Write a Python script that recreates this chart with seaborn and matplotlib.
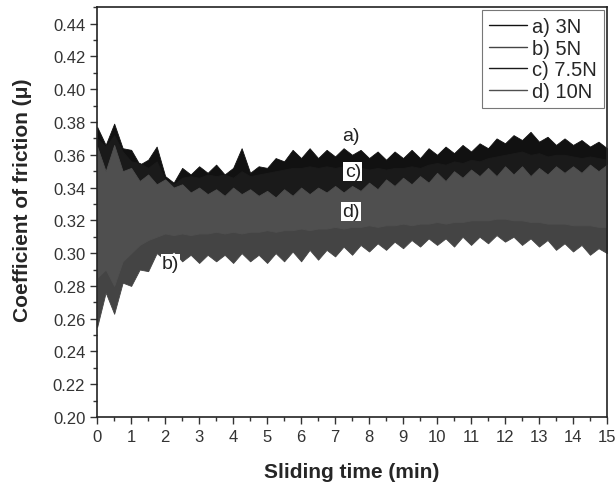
import matplotlib.pyplot as plt
from matplotlib.lines import Line2D
from matplotlib.ticker import MultipleLocator
import numpy as np
import pandas as pd
import seaborn as sns

# sampling grid of the friction traces (min)
time_min = np.arange(0, 15.01, 0.25)

loads = ["a) 3N", "b) 5N", "c) 7.5N", "d) 10N"]
colors = ["#111111", "#444444", "#1a1a1a", "#4f4f4f"]

# upper / lower envelope of each noisy trace, read every 0.25 min
a_hi = [0.377, 0.366, 0.379, 0.364, 0.363, 0.354, 0.357, 0.365, 0.347, 0.343,
        0.352, 0.348, 0.353, 0.349, 0.354, 0.348, 0.352, 0.364, 0.349, 0.353,
        0.352, 0.358, 0.356, 0.363, 0.358, 0.364, 0.358, 0.363, 0.359, 0.364,
        0.360, 0.363, 0.358, 0.362, 0.357, 0.362, 0.358, 0.363, 0.358, 0.364,
        0.360, 0.365, 0.361, 0.366, 0.362, 0.367, 0.364, 0.370, 0.367, 0.372,
        0.369, 0.374, 0.368, 0.371, 0.366, 0.370, 0.366, 0.369, 0.365, 0.368,
        0.364]
a_lo = [0.322, 0.335, 0.328, 0.336, 0.338, 0.340, 0.341, 0.340, 0.338, 0.336,
        0.338, 0.339, 0.338, 0.340, 0.339, 0.340, 0.338, 0.341, 0.339, 0.340,
        0.341, 0.342, 0.343, 0.344, 0.344, 0.345, 0.344, 0.345, 0.345, 0.346,
        0.345, 0.344, 0.344, 0.345, 0.344, 0.345, 0.345, 0.346, 0.345, 0.347,
        0.348, 0.347, 0.349, 0.348, 0.350, 0.349, 0.351, 0.352, 0.353, 0.354,
        0.355, 0.353, 0.354, 0.352, 0.353, 0.353, 0.352, 0.351, 0.352, 0.351,
        0.350]

b_hi = [0.360, 0.350, 0.360, 0.345, 0.340, 0.335, 0.332, 0.330, 0.328, 0.327,
        0.326, 0.325, 0.326, 0.325, 0.326, 0.325, 0.326, 0.325, 0.326, 0.325,
        0.326, 0.326, 0.327, 0.327, 0.328, 0.327, 0.328, 0.328, 0.329, 0.328,
        0.329, 0.329, 0.330, 0.330, 0.330, 0.331, 0.331, 0.331, 0.332, 0.332,
        0.333, 0.332, 0.333, 0.333, 0.334, 0.334, 0.334, 0.335, 0.335, 0.335,
        0.335, 0.334, 0.334, 0.333, 0.333, 0.333, 0.332, 0.332, 0.332, 0.331,
        0.331]
b_lo = [0.255, 0.276, 0.263, 0.282, 0.280, 0.290, 0.289, 0.300, 0.296, 0.301,
        0.295, 0.299, 0.294, 0.299, 0.295, 0.299, 0.294, 0.300, 0.295, 0.299,
        0.294, 0.300, 0.295, 0.301, 0.295, 0.302, 0.296, 0.302, 0.298, 0.304,
        0.299, 0.305, 0.301, 0.306, 0.302, 0.307, 0.303, 0.308, 0.304, 0.309,
        0.305, 0.309, 0.304, 0.310, 0.305, 0.310, 0.306, 0.311, 0.307, 0.310,
        0.305, 0.309, 0.304, 0.308, 0.302, 0.306, 0.301, 0.305, 0.299, 0.303,
        0.300]

c_hi = [0.370, 0.365, 0.372, 0.362, 0.356, 0.355, 0.352, 0.356, 0.345, 0.342,
        0.346, 0.347, 0.346, 0.348, 0.347, 0.348, 0.346, 0.350, 0.347, 0.348,
        0.349, 0.350, 0.351, 0.352, 0.352, 0.353, 0.352, 0.353, 0.352, 0.353,
        0.353, 0.352, 0.351, 0.352, 0.351, 0.352, 0.352, 0.353, 0.352, 0.354,
        0.355, 0.354, 0.356, 0.355, 0.357, 0.356, 0.358, 0.359, 0.360, 0.361,
        0.362, 0.360, 0.361, 0.359, 0.360, 0.360, 0.359, 0.358, 0.359, 0.358,
        0.357]
c_lo = [0.295, 0.310, 0.300, 0.315, 0.320, 0.325, 0.328, 0.330, 0.332, 0.331,
        0.333, 0.332, 0.333, 0.334, 0.332, 0.333, 0.332, 0.334, 0.333, 0.332,
        0.333, 0.334, 0.335, 0.334, 0.335, 0.336, 0.335, 0.336, 0.335, 0.336,
        0.336, 0.335, 0.336, 0.337, 0.336, 0.337, 0.337, 0.338, 0.338, 0.339,
        0.340, 0.339, 0.341, 0.340, 0.342, 0.341, 0.342, 0.343, 0.344, 0.344,
        0.345, 0.344, 0.344, 0.343, 0.344, 0.343, 0.343, 0.342, 0.343, 0.342,
        0.342]

d_hi = [0.365, 0.350, 0.366, 0.350, 0.352, 0.344, 0.348, 0.342, 0.345, 0.340,
        0.342, 0.337, 0.340, 0.336, 0.339, 0.335, 0.340, 0.336, 0.339, 0.335,
        0.338, 0.334, 0.339, 0.335, 0.340, 0.336, 0.340, 0.337, 0.341, 0.337,
        0.341, 0.338, 0.343, 0.339, 0.345, 0.341, 0.346, 0.342, 0.347, 0.343,
        0.349, 0.344, 0.350, 0.346, 0.351, 0.347, 0.352, 0.347, 0.353, 0.348,
        0.353, 0.347, 0.352, 0.348, 0.353, 0.349, 0.353, 0.349, 0.354, 0.350,
        0.354]
d_lo = [0.285, 0.290, 0.280, 0.295, 0.300, 0.305, 0.308, 0.310, 0.312, 0.311,
        0.312, 0.311, 0.312, 0.312, 0.313, 0.312, 0.313, 0.312, 0.313, 0.313,
        0.314, 0.313, 0.314, 0.314, 0.315, 0.314, 0.315, 0.315, 0.316, 0.315,
        0.316, 0.316, 0.317, 0.316, 0.317, 0.317, 0.318, 0.317, 0.318, 0.318,
        0.319, 0.318, 0.319, 0.319, 0.320, 0.320, 0.320, 0.321, 0.321, 0.320,
        0.320, 0.319, 0.319, 0.318, 0.318, 0.318, 0.317, 0.317, 0.317, 0.316,
        0.316]

uppers = [a_hi, b_hi, c_hi, d_hi]
lowers = [a_lo, b_lo, c_lo, d_lo]

# curve labels placed on the plot
label_text = ["a)", "c)", "d)", "b)"]
label_x = [7.46, 7.52, 7.46, 2.16]
label_y = [0.3716, 0.3496, 0.3252, 0.2934]
label_box = [False, True, True, True]


def build_frame():
    rows = []
    for load, hi, lo in zip(loads, uppers, lowers):
        for t, h, l in zip(time_min, hi, lo):
            rows.append((t, load, h))
            rows.append((t, load, l))
    return pd.DataFrame(rows, columns=["time", "load", "cof"])


def plot_friction(df):
    fig, ax = plt.subplots(figsize=(6.15, 4.85), dpi=100)
    fig.subplots_adjust(left=0.158, right=0.987, bottom=0.138, top=0.983)

    for load, color in zip(loads, colors):
        sns.lineplot(
            data=df[df["load"] == load],
            x="time",
            y="cof",
            color=color,
            errorbar=("pi", 100),
            err_kws={"alpha": 1, "linewidth": 0.6, "edgecolor": color},
            linewidth=0,
            ax=ax,
        )

    for txt, x, y, box in zip(label_text, label_x, label_y, label_box):
        bbox = dict(facecolor="white", edgecolor="none", pad=0.8) if box else None
        ax.text(x, y, txt, ha="center", va="center", fontsize=14,
                color="#222222", bbox=bbox)

    ax.set_xlim(0, 15)
    ax.xaxis.set_major_locator(MultipleLocator(1))
    ax.xaxis.set_minor_locator(MultipleLocator(0.5))
    ax.yaxis.set_minor_locator(MultipleLocator(0.01))
    yt = np.arange(0.20, 0.441, 0.02)
    ax.set_yticks(yt)
    ax.set_yticklabels([f"{v:.2f}" for v in yt])
    ax.set_ylim(0.20, 0.45)

    ax.tick_params(which="major", direction="out", length=5, width=1,
                   labelsize=12, labelcolor="#333333", color="#333333")
    ax.tick_params(which="minor", direction="out", length=3, width=1,
                   color="#333333")
    for side in ["top", "right", "left", "bottom"]:
        ax.spines[side].set_visible(True)
        ax.spines[side].set_linewidth(1.2)
        ax.spines[side].set_color("#222222")

    ax.set_xlabel("Sliding time (min)", fontsize=15, fontweight="bold",
                  labelpad=13)
    ax.set_ylabel("Coefficient of friction (\u03bc)", fontsize=15,
                  fontweight="bold")
    ax.yaxis.set_label_coords(-0.128, 0.532)

    handles = [Line2D([], [], color=c, lw=1.0) for c in colors]
    leg = ax.legend(handles, loads, loc="upper right", bbox_to_anchor=(1.0, 1.0),
                    borderaxespad=0.15, fontsize=14.5, handlelength=1.9,
                    handletextpad=0.25, labelspacing=0.12, borderpad=0.35,
                    fancybox=False, framealpha=1)
    leg.get_frame().set_edgecolor("#777777")
    leg.get_frame().set_linewidth(0.8)

    fig.savefig("out.png", dpi=100)


if __name__ == "__main__":
    sns.set_style("ticks")
    plt.rcParams["font.family"] = ["Liberation Sans", "DejaVu Sans"]
    df = build_frame()
    plot_friction(df)
